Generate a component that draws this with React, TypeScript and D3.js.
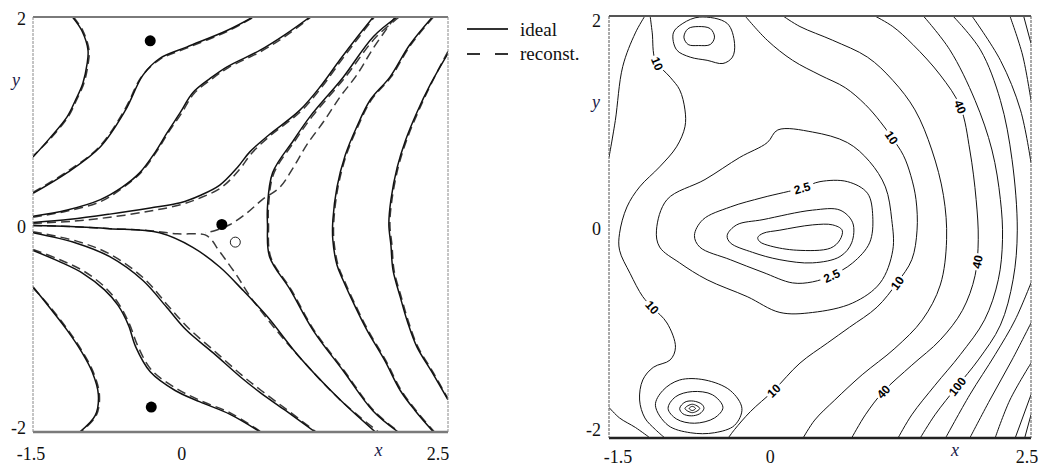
import React from "react";
import * as d3 from "d3";

type Pt = [number, number];

// Shared axis extents of both panels
const X_RANGE: [number, number] = [-1.5, 2.5];
const Y_RANGE: [number, number] = [-2, 2];
const X_TICKS = [-1.5, 0, 2.5];
const Y_TICKS = [2, 0, -2];

// ---------- Left panel: ideal (solid) lines ----------
const idealA1: Pt[] = [[-1.12,2.0],[-1.03,1.87],[-0.97,1.68],[-0.98,1.54],[-1.02,1.36],[-1.09,1.2],[-1.17,1.04],[-1.34,0.83],[-1.5,0.65]];
const idealA2: Pt[] = [[-1.5,0.3],[-1.17,0.5],[-0.85,0.75],[-0.61,1.1],[-0.44,1.44],[-0.28,1.6],[-0.02,1.71],[0.37,1.87],[0.62,2.0]];
const idealA3: Pt[] = [[-1.5,0.08],[-1.17,0.14],[-0.85,0.24],[-0.64,0.36],[-0.47,0.5],[-0.32,0.7],[-0.21,0.88],[-0.08,1.08],[0.04,1.27],[0.21,1.41],[0.37,1.52],[0.69,1.68],[0.93,1.83],[1.17,2.0]];
const idealA4: Pt[] = [[-1.5,0.02],[-1.14,0.05],[-0.76,0.1],[-0.37,0.16],[-0.08,0.21],[0.11,0.28],[0.3,0.38],[0.47,0.55],[0.59,0.7],[0.77,0.86],[1.07,1.1],[1.27,1.33],[1.46,1.59],[1.62,1.8],[1.78,2.0]];
const idealB1: Pt[] = [[-1.5,-0.6],[-1.34,-0.8],[-1.17,-1.02],[-1.03,-1.23],[-0.93,-1.42],[-0.87,-1.64],[-0.9,-1.84],[-1.05,-2.0]];
const idealB2: Pt[] = [[-1.5,-0.25],[-1.24,-0.36],[-1.02,-0.47],[-0.81,-0.63],[-0.68,-0.78],[-0.58,-0.97],[-0.51,-1.18],[-0.37,-1.42],[-0.13,-1.6],[0.11,-1.71],[0.4,-1.83],[0.69,-2.0]];
const idealB3: Pt[] = [[-1.5,-0.08],[-1.08,-0.18],[-0.76,-0.31],[-0.44,-0.54],[-0.21,-0.8],[-0.02,-1.02],[0.24,-1.24],[0.5,-1.47],[0.69,-1.62],[0.93,-1.79],[1.22,-2.0]];
const idealB4: Pt[] = [[-1.5,-0.01],[-1.14,-0.02],[-0.76,-0.04],[-0.28,-0.08],[0.04,-0.22],[0.3,-0.41],[0.52,-0.63],[0.76,-0.89],[1.07,-1.28],[1.46,-1.69],[1.8,-2.0]];
const idealV1: Pt[] = [[2.01,2.0],[1.78,1.81],[1.49,1.42],[1.17,1.04],[1.01,0.81],[0.81,0.5],[0.76,0.17],[0.76,0.0],[0.78,-0.31],[0.98,-0.63],[1.2,-1.02],[1.49,-1.41],[1.78,-1.8],[2.02,-2.0]];
const idealV2: Pt[] = [[2.35,2.0],[2.13,1.73],[1.94,1.42],[1.75,1.2],[1.62,0.94],[1.51,0.67],[1.43,0.36],[1.39,0.04],[1.39,-0.15],[1.43,-0.39],[1.49,-0.54],[1.6,-0.78],[1.72,-1.02],[1.89,-1.31],[2.04,-1.6],[2.18,-1.79],[2.36,-2.0]];
const idealV3: Pt[] = [[2.5,1.65],[2.33,1.35],[2.2,1.08],[2.09,0.81],[2.01,0.55],[1.95,0.24],[1.93,0.0],[1.95,-0.2],[1.97,-0.44],[2.04,-0.7],[2.11,-0.94],[2.2,-1.18],[2.35,-1.43],[2.5,-1.69]];

// ---------- Left panel: reconstructed (dashed) lines ----------
const reconA1: Pt[] = [[-1.11,2.0],[-1.02,1.87],[-0.96,1.68],[-0.97,1.54],[-1.01,1.36],[-1.08,1.2],[-1.16,1.04],[-1.33,0.83],[-1.5,0.66]];
const reconA2: Pt[] = [[-1.5,0.31],[-1.17,0.51],[-0.86,0.75],[-0.62,1.1],[-0.45,1.43],[-0.28,1.59],[-0.02,1.7],[0.37,1.86],[0.63,2.0]];
const reconA3: Pt[] = [[-1.5,0.07],[-1.17,0.13],[-0.85,0.22],[-0.64,0.35],[-0.46,0.5],[-0.31,0.7],[-0.2,0.88],[-0.07,1.07],[0.05,1.26],[0.22,1.4],[0.38,1.51],[0.7,1.67],[0.94,1.82],[1.18,2.0]];
const reconA4: Pt[] = [[-1.5,0.01],[-1.14,0.03],[-0.76,0.07],[-0.37,0.13],[-0.08,0.19],[0.12,0.26],[0.32,0.36],[0.49,0.53],[0.61,0.69],[0.78,0.85],[1.08,1.09],[1.28,1.32],[1.47,1.58],[1.63,1.79],[1.79,2.0]];
const reconB1: Pt[] = [[-1.5,-0.61],[-1.33,-0.8],[-1.16,-1.02],[-1.02,-1.23],[-0.92,-1.42],[-0.86,-1.64],[-0.89,-1.84],[-1.04,-2.0]];
const reconB2: Pt[] = [[-1.5,-0.24],[-1.24,-0.34],[-1.01,-0.45],[-0.8,-0.61],[-0.67,-0.77],[-0.57,-0.96],[-0.49,-1.17],[-0.36,-1.4],[-0.12,-1.58],[0.12,-1.7],[0.41,-1.82],[0.7,-2.0]];
const reconB3: Pt[] = [[-1.5,-0.07],[-1.08,-0.16],[-0.75,-0.29],[-0.43,-0.52],[-0.2,-0.78],[0.0,-1.0],[0.25,-1.22],[0.51,-1.45],[0.7,-1.6],[0.94,-1.78],[1.23,-2.0]];
const reconV1: Pt[] = [[2.03,2.0],[1.8,1.8],[1.51,1.42],[1.19,1.04],[1.02,0.8],[0.82,0.49],[0.77,0.17],[0.77,0.0],[0.79,-0.31],[0.99,-0.63],[1.21,-1.02],[1.5,-1.41],[1.79,-1.8],[2.03,-2.0]];
const reconV2: Pt[] = [[2.36,2.0],[2.14,1.73],[1.95,1.42],[1.76,1.2],[1.63,0.94],[1.52,0.67],[1.44,0.36],[1.4,0.04],[1.4,-0.15],[1.44,-0.39],[1.5,-0.54],[1.61,-0.78],[1.73,-1.02],[1.9,-1.31],[2.05,-1.6],[2.19,-1.79],[2.37,-2.0]];
const reconV3: Pt[] = [[2.5,1.67],[2.34,1.36],[2.21,1.08],[2.1,0.81],[2.02,0.55],[1.96,0.24],[1.94,0.0],[1.96,-0.2],[1.98,-0.44],[2.05,-0.7],[2.12,-0.94],[2.21,-1.18],[2.36,-1.43],[2.5,-1.68]];
// separatrix of the reconstructed field (upper branch and left/lower branch)
const reconSepUpper: Pt[] = [[1.99,2.0],[1.78,1.7],[1.62,1.44],[1.46,1.23],[1.3,0.99],[1.14,0.77],[1.01,0.55],[0.88,0.36],[0.71,0.24],[0.56,0.11],[0.4,0.0],[0.25,-0.06],[0.16,-0.08]];
const reconSepLower: Pt[] = [[-1.5,-0.01],[-1.14,-0.02],[-0.76,-0.04],[-0.37,-0.06],[-0.11,-0.09],[0.16,-0.1],[0.23,-0.16],[0.27,-0.22],[0.35,-0.33],[0.47,-0.5],[0.59,-0.69],[0.83,-1.0],[1.07,-1.28],[1.46,-1.69],[1.83,-2.0]];

// sources: ideal positions (filled) and reconstructed one (open)
const idealSources: Pt[] = [[-0.37,1.77],[0.32,0.0],[-0.36,-1.76]];
const reconSource: Pt = [0.45,-0.17];

// ---------- Right panel: misfit contours ----------
const cCenter1: Pt[] = [[-0.09,-0.1],[-0.04,-0.06],[0.12,-0.03],[0.43,0.02],[0.62,0.02],[0.71,-0.03],[0.69,-0.12],[0.6,-0.2],[0.28,-0.22],[0.03,-0.18],[-0.07,-0.14]];
const cCenter2: Pt[] = [[-0.38,-0.08],[-0.29,0.02],[-0.04,0.07],[0.43,0.16],[0.69,0.16],[0.81,0.04],[0.8,-0.15],[0.69,-0.28],[0.43,-0.34],[0.12,-0.31],[-0.14,-0.24],[-0.35,-0.15]];
const c2p5: Pt[] = [[-0.69,-0.08],[-0.61,0.07],[-0.35,0.19],[-0.04,0.28],[0.33,0.37],[0.5,0.43],[0.76,0.43],[0.95,0.32],[1.0,0.1],[0.97,-0.15],[0.81,-0.34],[0.61,-0.46],[0.43,-0.52],[0.24,-0.53],[-0.04,-0.43],[-0.35,-0.31],[-0.64,-0.19]];
const c5: Pt[] = [[-1.05,-0.03],[-1.02,-0.19],[-0.83,-0.34],[-0.57,-0.5],[-0.19,-0.66],[0.12,-0.81],[0.43,-0.81],[0.81,-0.72],[1.07,-0.53],[1.19,-0.22],[1.18,0.07],[1.12,0.38],[0.97,0.62],[0.76,0.8],[0.43,0.9],[0.1,0.92],[0.0,0.8],[-0.26,0.66],[-0.59,0.45],[-0.95,0.26]];
const cUpper1: Pt[] = [[-0.79,1.8],[-0.75,1.88],[-0.65,1.9],[-0.54,1.88],[-0.5,1.8],[-0.54,1.73],[-0.65,1.72],[-0.75,1.73]];
const cUpper2: Pt[] = [[-0.89,1.84],[-0.8,1.93],[-0.64,1.99],[-0.38,1.93],[-0.31,1.74],[-0.33,1.61],[-0.42,1.55],[-0.57,1.58],[-0.73,1.61],[-0.86,1.68]];
const cLower1: Pt[] = [[-0.74,-1.72],[-0.71,-1.7],[-0.68,-1.72],[-0.71,-1.74]];
const cLower2: Pt[] = [[-0.78,-1.72],[-0.71,-1.68],[-0.64,-1.72],[-0.71,-1.76]];
const cLower3: Pt[] = [[-0.83,-1.72],[-0.78,-1.66],[-0.7,-1.65],[-0.62,-1.68],[-0.6,-1.72],[-0.64,-1.77],[-0.72,-1.79],[-0.8,-1.77]];
const cLower4: Pt[] = [[-0.94,-1.72],[-0.87,-1.61],[-0.71,-1.56],[-0.52,-1.59],[-0.42,-1.71],[-0.5,-1.81],[-0.69,-1.86],[-0.86,-1.82]];
const cLower5: Pt[] = [[-1.06,-1.69],[-0.99,-1.55],[-0.83,-1.45],[-0.59,-1.45],[-0.35,-1.55],[-0.24,-1.72],[-0.31,-1.88],[-0.5,-1.95],[-0.73,-1.95],[-0.94,-1.88]];

const c10West: Pt[] = [[-1.11,2.0],[-1.09,1.84],[-1.06,1.58],[-0.92,1.42],[-0.83,1.3],[-0.78,1.11],[-0.78,0.95],[-0.86,0.76],[-1.02,0.57],[-1.21,0.38],[-1.33,0.19],[-1.4,-0.06],[-1.4,-0.22],[-1.3,-0.44],[-1.18,-0.66],[-1.09,-0.76],[-0.95,-0.91],[-0.87,-1.14],[-0.92,-1.26],[-1.08,-1.33],[-1.18,-1.45],[-1.21,-1.64],[-1.16,-1.81],[-1.06,-1.92],[-0.97,-2.0]];
const c10East: Pt[] = [[-0.21,2.0],[0.0,1.77],[0.24,1.58],[0.5,1.44],[0.74,1.32],[0.93,1.16],[1.07,1.0],[1.18,0.85],[1.29,0.68],[1.36,0.49],[1.41,0.26],[1.42,-0.03],[1.37,-0.31],[1.23,-0.53],[1.04,-0.76],[0.78,-0.95],[0.57,-1.1],[0.31,-1.29],[0.06,-1.55],[-0.16,-1.75],[-0.31,-1.92],[-0.37,-2.0]];
const c20NW: Pt[] = [[-1.5,0.66],[-1.44,1.01],[-1.37,1.52],[-1.25,1.84],[-1.16,2.0]];
const c20SW: Pt[] = [[-1.5,-1.71],[-1.4,-1.81],[-1.25,-1.9],[-1.11,-2.0]];
const c20East: Pt[] = [[0.15,2.0],[0.31,1.9],[0.62,1.77],[0.95,1.61],[1.19,1.39],[1.4,1.11],[1.56,0.73],[1.67,0.3],[1.7,-0.12],[1.64,-0.55],[1.47,-0.88],[1.21,-1.15],[0.9,-1.4],[0.64,-1.64],[0.45,-1.83],[0.34,-2.0]];
const c40: Pt[] = [[1.02,2.0],[1.19,1.9],[1.38,1.73],[1.64,1.44],[1.83,1.14],[1.92,0.73],[1.98,0.26],[2.0,-0.12],[1.97,-0.46],[1.85,-0.79],[1.64,-1.07],[1.37,-1.31],[1.1,-1.56],[0.93,-1.78],[0.8,-2.0]];
const c70: Pt[] = [[1.48,2.0],[1.73,1.68],[1.97,1.2],[2.13,0.73],[2.21,0.26],[2.23,-0.12],[2.19,-0.5],[2.06,-0.88],[1.83,-1.21],[1.59,-1.5],[1.37,-1.78],[1.24,-2.0]];
const c100: Pt[] = [[1.76,2.0],[2.02,1.68],[2.21,1.2],[2.32,0.64],[2.37,-0.03],[2.33,-0.5],[2.21,-0.93],[2.0,-1.26],[1.8,-1.51],[1.59,-1.78],[1.45,-2.0]];
const c150N: Pt[] = [[1.94,2.0],[2.21,1.58],[2.4,1.11],[2.5,0.61]];
const c150S: Pt[] = [[2.5,-0.53],[2.35,-0.88],[2.16,-1.21],[1.92,-1.59],[1.69,-2.0]];
const c200N: Pt[] = [[2.3,2.0],[2.42,1.63],[2.5,1.2]];
const c200S: Pt[] = [[2.5,-0.91],[2.32,-1.26],[2.11,-1.64],[1.92,-2.0]];
const c300N: Pt[] = [[2.43,2.0],[2.5,1.74]];
const c300S: Pt[] = [[2.5,-1.29],[2.3,-1.64],[2.16,-2.0]];
const c400S: Pt[] = [[2.5,-1.59],[2.35,-2.0]];
const c500S: Pt[] = [[2.5,-1.78],[2.44,-2.0]];

const idealLines = [idealA1, idealA2, idealA3, idealA4, idealB1, idealB2, idealB3, idealB4, idealV1, idealV2, idealV3];
const reconLines = [reconA1, reconA2, reconA3, reconA4, reconB1, reconB2, reconB3, reconV1, reconV2, reconV3, reconSepUpper, reconSepLower];
const closedContours = [cCenter1, cCenter2, c2p5, c5, cUpper1, cUpper2, cLower1, cLower2, cLower3, cLower4, cLower5];
const openContours = [c10West, c10East, c20NW, c20SW, c20East, c40, c70, c100, c150N, c150S, c200N, c200S, c300N, c300S, c400S, c500S];

// contour labels: text, the contour it sits on, position
const contourLabels: { text: string; on: Pt[]; at: Pt }[] = [
  { text: "10", on: c10West, at: [-1.04, 1.55] },
  { text: "10", on: c10West, at: [-1.09, -0.76] },
  { text: "2.5", on: c2p5, at: [0.33, 0.37] },
  { text: "2.5", on: c2p5, at: [0.61, -0.46] },
  { text: "10", on: c10East, at: [1.18, 0.85] },
  { text: "10", on: c10East, at: [1.23, -0.53] },
  { text: "10", on: c10East, at: [0.06, -1.55] },
  { text: "40", on: c40, at: [1.83, 1.14] },
  { text: "40", on: c40, at: [1.99, -0.33] },
  { text: "40", on: c40, at: [1.1, -1.56] },
  { text: "100", on: c100, at: [1.8, -1.51] },
];

const SERIF = "'Liberation Serif', 'DejaVu Serif', serif";
const SANS = "'Liberation Sans', Arial, sans-serif";

function tangentAngle(curve: Pt[], p: Pt, sx: (v: number) => number, sy: (v: number) => number) {
  let best = 0;
  let bd = Infinity;
  curve.forEach((c, i) => {
    const d = (c[0] - p[0]) ** 2 + (c[1] - p[1]) ** 2;
    if (d < bd) { bd = d; best = i; }
  });
  const a = curve[Math.max(0, best - 1)];
  const b = curve[Math.min(curve.length - 1, best + 1)];
  let ang = (Math.atan2(sy(b[1]) - sy(a[1]), sx(b[0]) - sx(a[0])) * 180) / Math.PI;
  if (ang > 90) ang -= 180;
  if (ang < -90) ang += 180;
  return ang;
}

export default function App() {
  // left panel scales
  const lx = d3.scaleLinear().domain(X_RANGE).range([33, 448]);
  const ly = d3.scaleLinear().domain(Y_RANGE).range([432, 17]);
  // right panel scales
  const rx = d3.scaleLinear().domain(X_RANGE).range([609, 1031]);
  const ry = d3.scaleLinear().domain(Y_RANGE).range([438, 16]);

  const leftLine = d3.line<Pt>().x((d) => lx(d[0])).y((d) => ly(d[1])).curve(d3.curveCatmullRom.alpha(0.5));
  const rightOpen = d3.line<Pt>().x((d) => rx(d[0])).y((d) => ry(d[1])).curve(d3.curveCatmullRom.alpha(0.5));
  const rightClosed = d3.line<Pt>().x((d) => rx(d[0])).y((d) => ry(d[1])).curve(d3.curveCatmullRomClosed.alpha(0.5));

  const yTickDy = (v: number) => (v === -2 ? 2 : 8);
  const leftXdx = [-2, -7, -10];
  const rightXdx = [9, 3, -4];

  return (
    <svg width={1048} height={468} style={{ position: "absolute", left: 0, top: 0, background: "#fff" }}>
      <defs>
        <clipPath id="clipL"><rect x={33} y={17} width={415} height={415} /></clipPath>
        <clipPath id="clipR"><rect x={609} y={16} width={422} height={422} /></clipPath>
      </defs>

      {/* ---------- left panel ---------- */}
      <g clipPath="url(#clipL)">
        {reconLines.map((c, i) => (
          <path key={"r" + i} d={leftLine(c) || ""} fill="none" stroke="#3a3a3a" strokeWidth={1.5} strokeDasharray="9,5" />
        ))}
        {idealLines.map((c, i) => (
          <path key={"i" + i} d={leftLine(c) || ""} fill="none" stroke="#111" strokeWidth={1.5} />
        ))}
        {idealSources.map((p, i) => (
          <circle key={"s" + i} cx={lx(p[0])} cy={ly(p[1])} r={5.5} fill="#000" />
        ))}
        <circle cx={lx(reconSource[0])} cy={ly(reconSource[1])} r={5} fill="#fff" stroke="#222" strokeWidth={1} />
      </g>
      <line x1={33} y1={17} x2={448} y2={17} stroke="#7a7a7a" strokeWidth={2.2} />
      <line x1={33} y1={432} x2={448} y2={432} stroke="#7a7a7a" strokeWidth={2.5} />
      <line x1={33} y1={17} x2={33} y2={432} stroke="#8a8a8a" strokeWidth={1} strokeDasharray="3,1" />
      <line x1={448} y1={17} x2={448} y2={432} stroke="#8a8a8a" strokeWidth={1} strokeDasharray="3,1" />

      {Y_TICKS.map((v) => (
        <text key={"ly" + v} x={26} y={ly(v) + yTickDy(v)} textAnchor="end" fontFamily={SERIF} fontSize={18} fill="#111">
          {v}
        </text>
      ))}
      {X_TICKS.map((v, i) => (
        <text key={"lx" + v} x={lx(v) + leftXdx[i]} y={460} textAnchor="middle" fontFamily={SERIF} fontSize={18} fill="#111">
          {v}
        </text>
      ))}
      <text x={16} y={ly(1.37) + 4} textAnchor="middle" fontFamily={SERIF} fontStyle="italic" fontSize={18} fill="#1a1a4a">y</text>
      <text x={lx(1.83)} y={456} textAnchor="middle" fontFamily={SERIF} fontStyle="italic" fontSize={18} fill="#1a1a4a">x</text>

      {/* legend */}
      <line x1={467} y1={29} x2={508} y2={29} stroke="#333" strokeWidth={2} />
      <text x={520} y={36} fontFamily={SERIF} fontSize={19} fill="#111">ideal</text>
      <line x1={467} y1={54} x2={508} y2={54} stroke="#333" strokeWidth={2} strokeDasharray="13,15" />
      <text x={520} y={60} fontFamily={SERIF} fontSize={19} fill="#111">reconst.</text>

      {/* ---------- right panel ---------- */}
      <g clipPath="url(#clipR)">
        {closedContours.map((c, i) => (
          <path key={"cc" + i} d={rightClosed(c) || ""} fill="none" stroke="#111" strokeWidth={1} />
        ))}
        {openContours.map((c, i) => (
          <path key={"oc" + i} d={rightOpen(c) || ""} fill="none" stroke="#111" strokeWidth={1} />
        ))}
        {contourLabels.map((l, i) => {
          const ang = tangentAngle(l.on, l.at, rx, ry);
          const w = l.text.length * 7 + 3;
          return (
            <g key={"lb" + i} transform={`translate(${rx(l.at[0])},${ry(l.at[1])}) rotate(${ang})`}>
              <rect x={-w / 2} y={-6} width={w} height={12} fill="#fff" />
              <text x={0} y={4.5} textAnchor="middle" fontFamily={SANS} fontWeight="bold" fontSize={12} fill="#000">
                {l.text}
              </text>
            </g>
          );
        })}
      </g>
      <line x1={609} y1={16} x2={1031} y2={16} stroke="#555" strokeWidth={2} />
      <line x1={609} y1={438} x2={1031} y2={438} stroke="#222" strokeWidth={2.5} />
      <line x1={609} y1={16} x2={609} y2={438} stroke="#555" strokeWidth={1} strokeDasharray="3,1" />
      <line x1={1031} y1={16} x2={1031} y2={438} stroke="#555" strokeWidth={1} strokeDasharray="3,1" />

      {Y_TICKS.map((v) => (
        <text key={"ry" + v} x={601} y={ry(v) + (v === -2 ? -2 : v === 0 ? 8 : 11)} textAnchor="end" fontFamily={SERIF} fontSize={18} fill="#111">
          {v}
        </text>
      ))}
      {X_TICKS.map((v, i) => (
        <text key={"rx" + v} x={rx(v) + rightXdx[i]} y={463} textAnchor="middle" fontFamily={SERIF} fontSize={18} fill="#111">
          {v}
        </text>
      ))}
      <text x={596} y={ry(1.17) + 4} textAnchor="middle" fontFamily={SERIF} fontStyle="italic" fontSize={18} fill="#1a1a4a">y</text>
      <text x={rx(1.78)} y={456} textAnchor="middle" fontFamily={SERIF} fontStyle="italic" fontSize={18} fill="#1a1a4a">x</text>
    </svg>
  );
}
